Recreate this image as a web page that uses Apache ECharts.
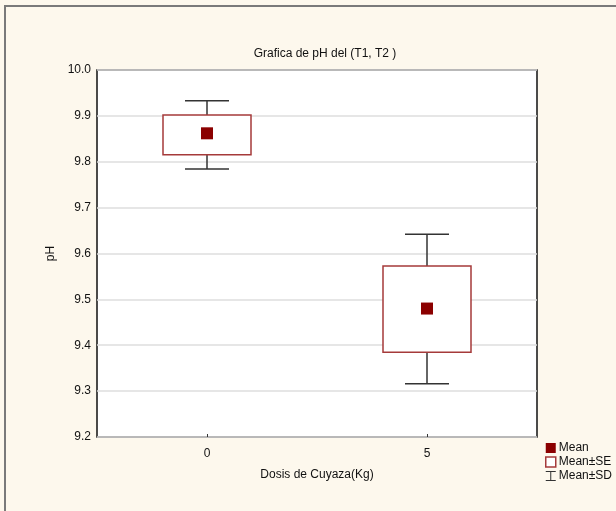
<!DOCTYPE html>
<html>
<head>
<meta charset="utf-8">
<script src="https://cdn.jsdelivr.net/npm/echarts@6/dist/echarts.min.js"></script>
<style>
  html, body { margin: 0; padding: 0; background: #fdf8ed; }
  #main { width: 616px; height: 511px; }
</style>
</head>
<body>
<div id="main"></div>
<script>
var categories = ['0', '5'];
var means = [9.862, 9.480];
var seLow = [9.815, 9.385];
var seHigh = [9.902, 9.573];
var sdLow = [9.784, 9.316];
var sdHigh = [9.933, 9.642];

var dom = document.getElementById('main');
var myChart = echarts.init(dom, null, { renderer: 'canvas' });

var font = 'Liberation Sans, Arial, sans-serif';

var sdData = categories.map(function (c, i) { return [i, sdLow[i], sdHigh[i]]; });
var seData = categories.map(function (c, i) { return [i, seLow[i], seHigh[i]]; });
var meanData = categories.map(function (c, i) { return [i, means[i]]; });

function renderSD(params, api) {
    var lo = api.coord([api.value(0), api.value(1)]);
    var hi = api.coord([api.value(0), api.value(2)]);
    var half = api.size([1, 0])[0] * 0.1;
    var st = { stroke: '#333', lineWidth: 1.5 };
    return {
        type: 'group',
        children: [
            { type: 'line', shape: { x1: lo[0], y1: lo[1], x2: hi[0], y2: hi[1] }, style: st },
            { type: 'line', shape: { x1: hi[0] - half, y1: hi[1], x2: hi[0] + half, y2: hi[1] }, style: st },
            { type: 'line', shape: { x1: lo[0] - half, y1: lo[1], x2: lo[0] + half, y2: lo[1] }, style: st }
        ]
    };
}

function renderSE(params, api) {
    var lo = api.coord([api.value(0), api.value(1)]);
    var hi = api.coord([api.value(0), api.value(2)]);
    var half = api.size([1, 0])[0] * 0.2;
    return {
        type: 'rect',
        shape: { x: hi[0] - half, y: hi[1], width: half * 2, height: lo[1] - hi[1] },
        style: { fill: '#fff', stroke: '#a53a3a', lineWidth: 1.5 }
    };
}

function renderMean(params, api) {
    var p = api.coord([api.value(0), api.value(1)]);
    var s = 12;
    return {
        type: 'rect',
        shape: { x: p[0] - s / 2, y: p[1] - s / 2, width: s, height: s },
        style: { fill: '#8b0000' }
    };
}

var option = {
    backgroundColor: '#fdf8ed',
    animation: false,
    title: {
        text: 'Grafica de pH del (T1, T2 )',
        left: 320,
        textAlign: 'center',
        top: 43,
        textStyle: { fontFamily: font, fontSize: 12, fontWeight: 'normal', color: '#111' }
    },
    graphic: [{
        type: 'rect',
        shape: { x: 5, y: 6, width: 700, height: 600 },
        style: { fill: 'none', stroke: '#7a7a7a', lineWidth: 2 },
        silent: true
    }],
    legend: {
        orient: 'vertical',
        left: 545,
        top: 442,
        padding: 0,
        itemWidth: 10,
        itemHeight: 10,
        itemGap: 2,
        textStyle: { fontFamily: font, fontSize: 12, color: '#111', padding: [0, 0, 0, -2] },
        data: [
            { name: 'Mean', icon: 'rect', itemStyle: { color: '#8b0000' } },
            { name: 'Mean±SE', icon: 'rect', itemStyle: { color: '#fff', borderColor: '#a53a3a', borderWidth: 1.5 } },
            { name: 'Mean±SD', icon: 'path://M0,0 L10,0 L10,1 L5.5,1 L5.5,9 L10,9 L10,10 L0,10 L0,9 L4.5,9 L4.5,1 L0,1 Z', itemStyle: { color: '#333' } }
        ]
    },
    grid: {
        left: 97,
        top: 70,
        right: 79,
        bottom: 74,
        show: true,
        backgroundColor: '#fff',
        borderColor: '#111',
        borderWidth: 1.5
    },
    xAxis: {
        type: 'category',
        data: categories,
        name: 'Dosis de Cuyaza(Kg)',
        nameLocation: 'middle',
        nameGap: 32,
        nameTextStyle: { fontFamily: font, fontSize: 12, color: '#111' },
        axisLine: { show: false },
        axisTick: { show: true, inside: true, alignWithLabel: true, length: 3, lineStyle: { color: '#333' } },
        axisLabel: { fontFamily: font, fontSize: 12, color: '#111', margin: 11 },
        splitLine: { show: false }
    },
    yAxis: {
        type: 'value',
        min: 9.2,
        max: 10.0,
        interval: 0.1,
        name: 'pH',
        nameLocation: 'middle',
        nameGap: 37,
        nameTextStyle: { fontFamily: font, fontSize: 12, color: '#111' },
        axisLine: { show: false },
        axisTick: { show: false },
        axisLabel: {
            fontFamily: font, fontSize: 12, color: '#111', margin: 6,
            formatter: function (v) { return v.toFixed(1); }
        },
        splitLine: { show: true, lineStyle: { color: '#dedede', width: 1.5 } }
    },
    series: [
        { name: 'Mean±SD', type: 'custom', renderItem: renderSD, encode: { x: 0, y: [1, 2] }, data: sdData, z: 2 },
        { name: 'Mean±SE', type: 'custom', renderItem: renderSE, encode: { x: 0, y: [1, 2] }, data: seData, z: 3 },
        { name: 'Mean', type: 'custom', renderItem: renderMean, encode: { x: 0, y: 1 }, data: meanData, z: 4 }
    ]
};

myChart.setOption(option);
window.addEventListener('resize', myChart.resize);
</script>
</body>
</html>
